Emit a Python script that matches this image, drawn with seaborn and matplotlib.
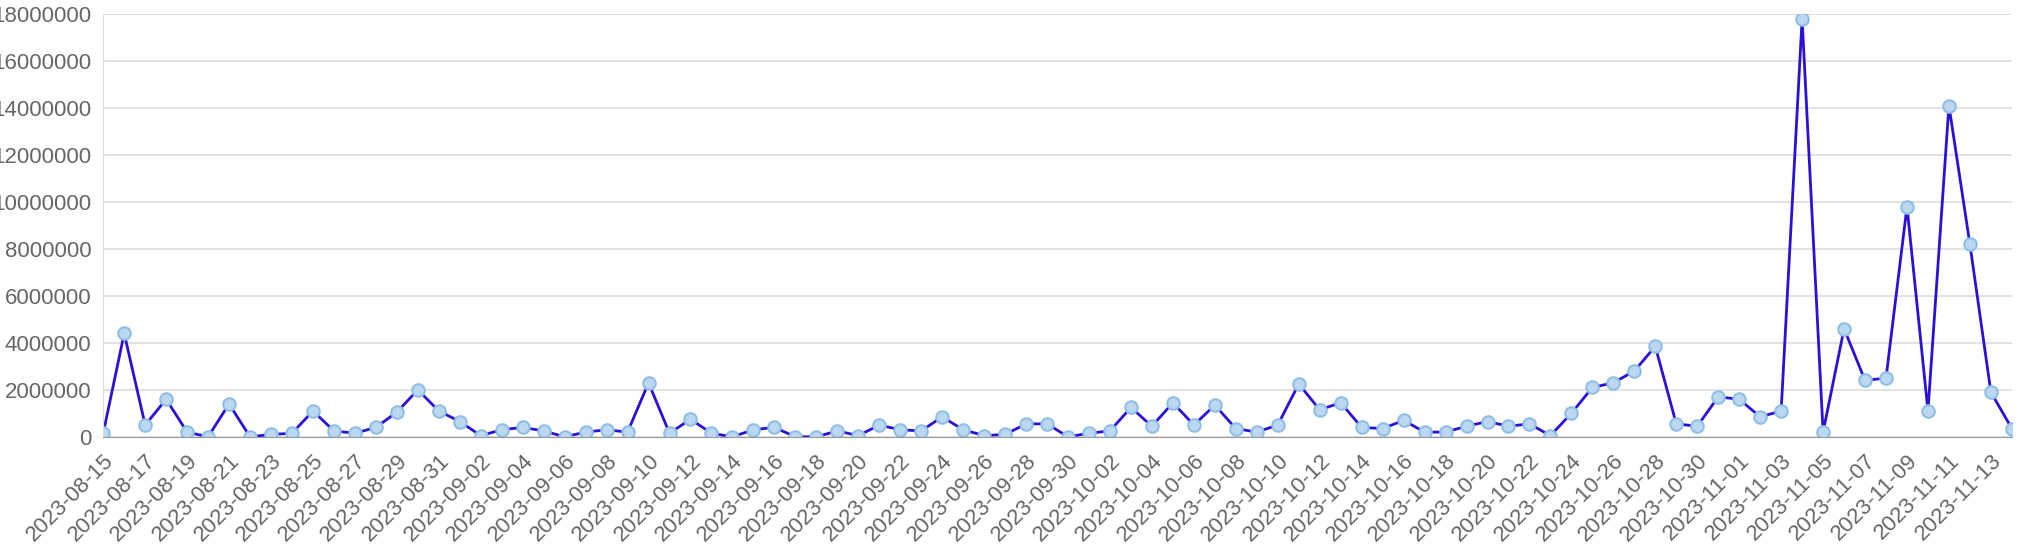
import pandas as pd
import seaborn as sns
import matplotlib.pyplot as plt
from matplotlib.ticker import MultipleLocator, FuncFormatter

dates = pd.date_range("2023-08-15", "2023-11-14", freq="D").strftime("%Y-%m-%d").tolist()
values_m = [
    0.15, 4.4, 0.5, 1.6, 0.2, 0.0, 1.4, 0.0, 0.1, 0.15,
    1.1, 0.25, 0.15, 0.4, 1.05, 2.0, 1.1, 0.65, 0.05, 0.3,
    0.4, 0.25, 0.0, 0.2, 0.3, 0.2, 2.3, 0.15, 0.75, 0.15,
    0.0, 0.3, 0.4, 0.0, 0.0, 0.25, 0.05, 0.5, 0.3, 0.25,
    0.85, 0.3, 0.05, 0.1, 0.55, 0.55, 0.0, 0.15, 0.25, 1.25,
    0.45, 1.45, 0.5, 1.35, 0.35, 0.2, 0.5, 2.25, 1.15, 1.45,
    0.4, 0.35, 0.7, 0.2, 0.2, 0.45, 0.65, 0.45, 0.55, 0.05,
    1.0, 2.1, 2.3, 2.8, 3.85, 0.55, 0.45, 1.7, 1.6, 0.85,
    1.1, 17.8, 0.2, 4.6, 2.4, 2.5, 9.8, 1.1, 14.1, 8.2,
    1.9, 0.35,
]
values = [v * 1_000_000 for v in values_m]
df = pd.DataFrame({"date": dates, "value": values, "idx": range(len(dates))})

sns.set_style("white")
plt.rcParams["font.family"] = ["Liberation Sans", "DejaVu Sans"]
fig, ax = plt.subplots(figsize=(20.24, 5.6), dpi=100)
sns.lineplot(data=df, x="idx", y="value", ax=ax, color="#2a10d8", linewidth=2,
             marker="o", markersize=9, markerfacecolor="#bcd8f0",
             markeredgecolor="#8fbfe6", markeredgewidth=1.5)

ax.set_xlim(0, len(dates) - 1)
ax.set_ylim(0, 18_000_000)
ax.yaxis.set_major_locator(MultipleLocator(2_000_000))
ax.yaxis.set_major_formatter(FuncFormatter(lambda v, p: f"{int(v)}"))
ax.set_xticks(range(0, len(dates), 2))
ax.set_xticklabels(dates[::2], rotation=45, ha="right", rotation_mode="anchor")
ax.grid(axis="y", color="#dddddd", linewidth=1.2)
ax.set_axisbelow(True)
ax.tick_params(colors="#666666", labelsize=16, length=5)
ax.tick_params(axis="x", length=6, color="#999999")
for s in ["top", "right"]:
    ax.spines[s].set_visible(False)
ax.spines["left"].set_color("#dddddd")
ax.spines["bottom"].set_color("#999999")
ax.set_xlabel("")
ax.set_ylabel("")

plt.subplots_adjust(left=0.051, right=0.994, top=0.975, bottom=0.22)
fig.savefig("out.png")
